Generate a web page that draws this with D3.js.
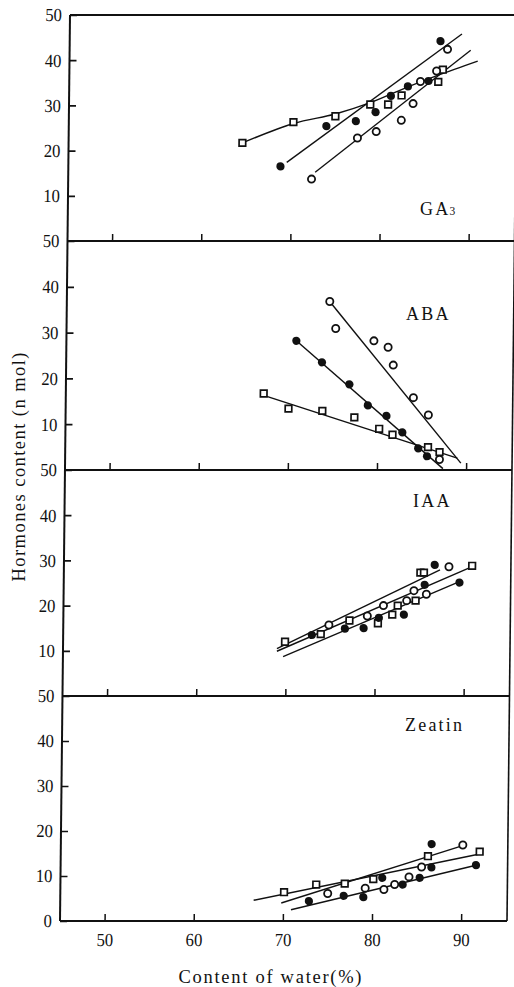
<!DOCTYPE html>
<html>
<head>
<meta charset="utf-8">
<script src="https://cdn.jsdelivr.net/npm/d3@7"></script>
<style>
  html, body { margin: 0; padding: 0; background: #fff; }
  svg { display: block; }
  text { font-family: "Liberation Serif", "Times New Roman", serif; fill: #111; }
</style>
</head>
<body>
<svg id="chart" width="514" height="987"></svg>
<script>
// Hormone content (n mol) against water content (%) for three sample groups:
// open circles, filled circles and open squares, each with its fitted line.

const waterTicks = [50, 60, 70, 80, 90];
const hormoneTicks = [10, 20, 30, 40, 50];
const hormoneNames = ["GA3", "ABA", "IAA", "Zeatin"];

// GA3
const ga3Open   = [[72.3,13.7],[77.4,22.8],[79.5,24.2],[82.3,26.7],[83.6,30.4],[84.4,35.3],[86.2,37.6],[87.4,42.4]];
const ga3Filled = [[68.8,16.5],[73.9,25.4],[77.2,26.5],[79.4,28.5],[81.1,32.1],[83.0,34.2],[85.3,35.4],[86.6,44.2]];
const ga3Square = [[64.5,21.7],[70.2,26.3],[74.9,27.6],[78.8,30.2],[80.8,30.2],[82.3,32.2],[86.4,35.2],[86.9,37.9]];
const ga3OpenFit   = [[72.7,15.2],[90.0,42.2]];
const ga3FilledFit = [[69.5,17.4],[89.0,45.8]];
const ga3SquareFit = [[64.5,21.7],[70.2,26.0],[74.9,28.1],[78.8,30.6],[83.0,34.1],[86.4,36.7],[90.8,39.8]];

// ABA
const abaOpen   = [[74.5,36.8],[75.2,30.9],[79.5,28.2],[81.1,26.8],[81.7,22.9],[84.0,15.8],[85.7,12.0],[87.0,2.3]];
const abaFilled = [[70.8,28.2],[73.7,23.5],[76.8,18.7],[78.9,14.1],[81.0,11.8],[82.8,8.2],[84.6,4.7],[85.6,3.0]];
const abaSquare = [[67.2,16.7],[70.0,13.4],[73.8,12.9],[77.4,11.5],[80.2,9.0],[81.7,7.7],[85.7,5.0],[87.0,3.9]];
const abaOpenFit   = [[74.7,36.3],[89.4,1.5]];
const abaFilledFit = [[70.8,28.2],[87.4,0.3]];
const abaSquareFit = [[67.2,16.3],[89.0,2.6]];

// IAA
const iaaOpen   = [[74.8,15.7],[79.1,17.7],[80.9,20.0],[83.5,21.1],[84.3,23.3],[85.7,22.5],[88.2,28.6]];
const iaaFilled = [[72.9,13.5],[76.6,14.9],[78.7,15.0],[80.4,17.3],[83.2,18.0],[85.5,24.6],[86.6,29.0],[89.4,25.1]];
const iaaSquare = [[69.9,12.0],[73.9,13.7],[77.1,16.7],[80.3,16.1],[81.9,18.0],[82.5,20.0],[84.5,21.1],[85.0,27.3],[85.4,27.3],[90.8,28.8]];
const iaaOpenFit   = [[69.0,10.5],[87.2,27.9]];
const iaaFilledFit = [[69.7,8.7],[89.4,25.3]];
const iaaSquareFit = [[69.0,9.9],[91.0,28.8]];

// Zeatin
const zeaOpen   = [[75.0,6.1],[79.2,7.3],[81.3,7.0],[82.5,8.1],[84.1,9.8],[85.5,12.0],[90.1,16.9]];
const zeaFilled = [[72.9,4.4],[76.8,5.6],[79.0,5.3],[81.1,9.6],[83.4,8.1],[85.3,9.6],[86.6,11.9],[86.6,17.1],[91.6,12.4]];
const zeaSquare = [[70.1,6.4],[73.7,8.1],[76.9,8.3],[80.1,9.3],[86.2,14.4],[92.0,15.4]];
const zeaOpenFit   = [[69.8,4.0],[90.0,16.7]];
const zeaFilledFit = [[70.9,2.5],[91.6,12.4]];
const zeaSquareFit = [[66.7,4.6],[92.0,14.9]];

const panels = [
  { name: hormoneNames[0], open: ga3Open, filled: ga3Filled, square: ga3Square, fits: [ga3OpenFit, ga3FilledFit, ga3SquareFit] },
  { name: hormoneNames[1], open: abaOpen, filled: abaFilled, square: abaSquare, fits: [abaOpenFit, abaFilledFit, abaSquareFit] },
  { name: hormoneNames[2], open: iaaOpen, filled: iaaFilled, square: iaaSquare, fits: [iaaOpenFit, iaaFilledFit, iaaSquareFit] },
  { name: hormoneNames[3], open: zeaOpen, filled: zeaFilled, square: zeaSquare, fits: [zeaOpenFit, zeaFilledFit, zeaSquareFit] }
];

// ---- layout ----
const left = 60, right = 507;
const edges = [15, 241, 470, 696, 921];   // panel top/bottom pixel rows
const base = edges[edges.length - 1];
const lean = -Math.atan(10 / 906) * 180 / Math.PI;   // the printed frame leans slightly
const tickFont = 18.5, tickSqueeze = 0.9;

const x = d3.scaleLinear().domain([45, 95.15]).range([left, right]);

const svg = d3.select("#chart");
svg.append("rect").attr("width", 514).attr("height", 987).attr("fill", "#fff");

const frame = svg.append("g")
  .attr("transform", `translate(0,${base}) skewX(${lean}) translate(0,${-base})`);

const ink = "#111";

panels.forEach((p, i) => {
  const y = d3.scaleLinear().domain([0, 50]).range([edges[i + 1], edges[i]]);
  const g = frame.append("g").attr("class", "panel");

  // y axis: inward ticks, labels on the left
  const yVals = i === panels.length - 1 ? [0].concat(hormoneTicks) : hormoneTicks;
  const ya = g.append("g")
    .attr("transform", `translate(${left},0)`)
    .call(d3.axisLeft(y).tickValues(yVals).tickSizeInner(-7).tickSizeOuter(0).tickPadding(8));
  ya.select(".domain").remove();
  ya.selectAll(".tick line").attr("stroke", ink).attr("stroke-width", 1.7);
  ya.selectAll(".tick text")
    .attr("font-size", tickFont)
    .attr("font-family", "Liberation Serif")
    .attr("fill", ink)
    .attr("transform", function () {
      const tx = +this.getAttribute("x");
      return `translate(${tx},0) scale(${tickSqueeze},1)`;
    })
    .attr("x", 0);

  // x axis at panel bottom: inward ticks, labels only under the last panel
  const xa = g.append("g")
    .attr("transform", `translate(0,${edges[i + 1]})`)
    .call(d3.axisBottom(x).tickValues(waterTicks).tickSizeInner(-7).tickSizeOuter(0).tickPadding(12)
      .tickFormat(i === panels.length - 1 ? d3.format("d") : () => ""));
  xa.select(".domain").remove();
  xa.selectAll(".tick line").attr("stroke", ink).attr("stroke-width", 1.5);
  xa.selectAll(".tick text")
    .attr("font-size", tickFont)
    .attr("font-family", "Liberation Serif")
    .attr("fill", ink)
    .attr("transform", function () {
      const ty = +this.getAttribute("y");
      return `translate(0,${ty}) scale(${tickSqueeze},1)`;
    })
    .attr("y", 0);

  // fitted lines
  const line = d3.line().x(d => x(d[0])).y(d => y(d[1])).curve(d3.curveCatmullRom.alpha(0.5));
  g.selectAll("path.fit").data(p.fits).join("path")
    .attr("class", "fit")
    .attr("d", line)
    .attr("fill", "none")
    .attr("stroke", ink)
    .attr("stroke-width", 1.4);

  // markers
  g.selectAll("rect.sq").data(p.square).join("rect")
    .attr("class", "sq")
    .attr("x", d => x(d[0]) - 3.3).attr("y", d => y(d[1]) - 3.3)
    .attr("width", 6.6).attr("height", 6.6)
    .attr("fill", "#fff").attr("stroke", ink).attr("stroke-width", 1.7);
  g.selectAll("circle.op").data(p.open).join("circle")
    .attr("class", "op")
    .attr("cx", d => x(d[0])).attr("cy", d => y(d[1])).attr("r", 3.6)
    .attr("fill", "#fff").attr("stroke", ink).attr("stroke-width", 1.8);
  g.selectAll("circle.fl").data(p.filled).join("circle")
    .attr("class", "fl")
    .attr("cx", d => x(d[0])).attr("cy", d => y(d[1])).attr("r", 4.1)
    .attr("fill", ink);
});

// frame: left axis, right border, panel separators
frame.append("line").attr("x1", left).attr("x2", left).attr("y1", edges[0]).attr("y2", base)
  .attr("stroke", ink).attr("stroke-width", 2);
frame.append("line").attr("x1", right).attr("x2", right).attr("y1", edges[0]).attr("y2", base)
  .attr("stroke", ink).attr("stroke-width", 1.6);
frame.selectAll("line.sep").data(edges).join("line")
  .attr("class", "sep")
  .attr("x1", left).attr("x2", right)
  .attr("y1", d => d).attr("y2", d => d)
  .attr("stroke", ink).attr("stroke-width", 2);

// hormone names inside each panel
const namePos = [[420, 215], [406, 320], [413, 507], [405, 731]];
panels.forEach((p, i) => {
  const t = svg.append("text")
    .attr("x", namePos[i][0]).attr("y", namePos[i][1])
    .attr("font-size", 18).attr("letter-spacing", 2.2);
  if (p.name === "GA3") {
    t.append("tspan").text("GA");
    t.append("tspan").attr("font-size", 11.5).attr("dx", -1).text("3");
  } else {
    t.text(p.name);
  }
});

// axis titles
svg.append("text")
  .attr("transform", "translate(25,467) rotate(-90)")
  .attr("text-anchor", "middle")
  .attr("font-size", 18.5)
  .attr("textLength", 229).attr("lengthAdjust", "spacing")
  .text("Hormones content (n mol)");

svg.append("text")
  .attr("x", 270).attr("y", 983)
  .attr("text-anchor", "middle")
  .attr("font-size", 18.5)
  .attr("textLength", 183).attr("lengthAdjust", "spacing")
  .text("Content of water(%)");
</script>
</body>
</html>
